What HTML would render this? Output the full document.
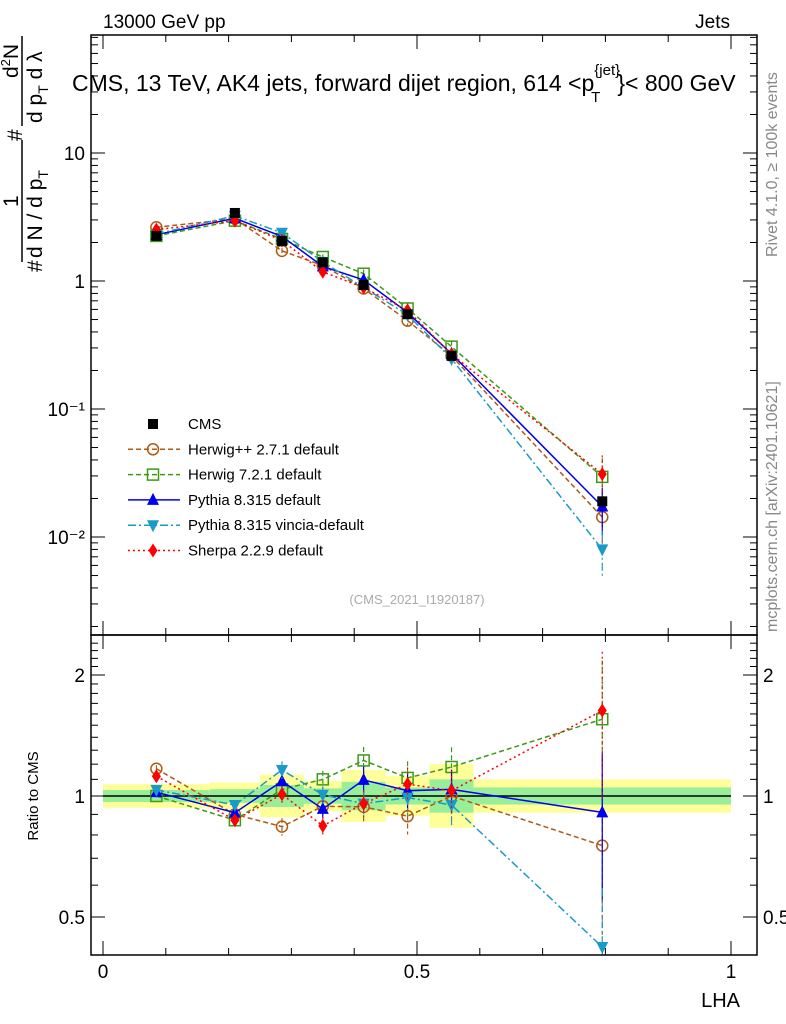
<!DOCTYPE html>
<html><head><meta charset="utf-8"><style>
body{margin:0;background:#fff;}
svg{display:block;font-family:"Liberation Sans",sans-serif;}
</style></head><body>
<svg id="chart" width="786" height="1024" viewBox="0 0 786 1024" xmlns="http://www.w3.org/2000/svg">
<defs><clipPath id="rclip"><rect x="91" y="635" width="666" height="320"/></clipPath><clipPath id="mclip"><rect x="91" y="35" width="666" height="600"/></clipPath></defs>
<text x="103" y="28" font-size="19">13000 GeV pp</text>
<text x="730" y="28" font-size="19" text-anchor="end">Jets</text>
<text x="72" y="91" font-size="23">CMS, 13 TeV, AK4 jets, forward dijet region, 614 &lt;p<tspan font-size="15" dy="-16">{jet}</tspan><tspan font-size="15" dx="-29" dy="27">T</tspan><tspan dy="-11" dx="17">}&lt; 800 GeV</tspan></text>
<g transform="translate(777,257) rotate(-90)"><text font-size="16" fill="#888">Rivet 4.1.0, ≥ 100k events</text></g>
<g transform="translate(777,632) rotate(-90)"><text font-size="16" fill="#888">mcplots.cern.ch [arXiv:2401.10621]</text></g>
<g font-size="21">
 <g transform="translate(42,272) rotate(-90)"><text>#</text></g>
 <g transform="translate(42,258) rotate(-90)"><text>d N / d p<tspan font-size="14" dy="6">T</tspan></text></g>
 <line x1="22" y1="140" x2="22" y2="262" stroke="#000" stroke-width="1.5"/>
 <g transform="translate(18,207) rotate(-90)"><text>1</text></g>
 <g transform="translate(22,141) rotate(-90)"><text>#</text></g>
 <line x1="22" y1="36" x2="22" y2="126" stroke="#000" stroke-width="1.5"/>
 <g transform="translate(18,78) rotate(-90)"><text>d<tspan font-size="13" dy="-8">2</tspan><tspan dy="8">N</tspan></text></g>
 <g transform="translate(42,123) rotate(-90)"><text>d p<tspan font-size="14" dy="6">T</tspan><tspan dy="-6"> d λ</tspan></text></g>
</g>
<g transform="translate(38,796) rotate(-90)"><text font-size="15" text-anchor="middle">Ratio to CMS</text></g>
<text x="740" y="1007" font-size="20" text-anchor="end">LHA</text>
<text x="417" y="604" font-size="13" fill="#aaa" text-anchor="middle">(CMS_2021_I1920187)</text>
<g id="main"></g><g id="ratio"></g><g id="axes"></g><g id="legend"></g>
</svg>
<script>
const edges=[0,0.17,0.25,0.32,0.38,0.45,0.52,0.59,1.0];
const lha=[0.085,0.21,0.285,0.35,0.415,0.485,0.555,0.795];
const cms=[2.25,3.4,2.05,1.4,0.93,0.55,0.26,0.019];
const herwigpp=[2.63,3.06,1.72,1.32,0.874,0.49,0.26,0.0143];
const herwig7=[2.25,2.96,2.13,1.54,1.14,0.61,0.307,0.0295];
const pythia=[2.30,3.09,2.23,1.30,1.02,0.567,0.27,0.0173];
const vincia=[2.33,3.23,2.38,1.41,0.89,0.545,0.247,0.0080];
const sherpa=[2.52,2.96,2.07,1.18,0.89,0.589,0.268,0.031];
const mcRelErr=[0.02,0.02,0.05,0.05,0.08,0.1,0.12,0.4];
const bandYellow=[1.07,1.08,1.13,1.09,1.16,1.12,1.2,1.1];
const bandGreen=[1.035,1.04,1.065,1.045,1.085,1.05,1.1,1.05];
const yTickLabels=["10","1","10⁻¹","10⁻²"];
const yTickVals=[10,1,0.1,0.01];
const ratioTickVals=[0.5,1,2];
const xTickVals=[0,0.5,1];

const NS="http://www.w3.org/2000/svg";
const L=91,R=757,MT=35,MB=635,RB=955;
const X=v=>103+628*v;
const Ym=v=>281-128*Math.log10(v);
const Yr=v=>796-121*Math.log2(v);
function mk(p,tag,a){const e=document.createElementNS(NS,tag);for(const k in a)e.setAttribute(k,a[k]);p.appendChild(e);return e;}
const main=document.getElementById('main'),ratio=document.getElementById('ratio'),axes=document.getElementById('axes'),leg=document.getElementById('legend');
main.setAttribute('clip-path','url(#mclip)');
ratio.setAttribute('clip-path','url(#rclip)');

edges.slice(0,-1).forEach((e0,i)=>{
 const y=mk(ratio,'rect',{x:X(e0),y:Yr(bandYellow[i]),width:X(edges[i+1])-X(e0),height:Yr(1/bandYellow[i])-Yr(bandYellow[i]),fill:'#ffff99'});
 
 
 const g=mk(ratio,'rect',{x:X(e0),y:Yr(bandGreen[i]),width:X(edges[i+1])-X(e0),height:Yr(1/bandGreen[i])-Yr(bandGreen[i]),fill:'#99ee99'});
 
 
});
const one=mk(ratio,'line',{x1:X(0),x2:X(1),y1:Yr(1),y2:Yr(1),stroke:'#000','stroke-width':1.5});



function marker(p,type,x,y,c){
 let e;
 if(type==='sq')e=mk(p,'rect',{x:x-5,y:y-5,width:10,height:10,fill:c});
 else if(type==='osq')e=mk(p,'rect',{x:x-5.5,y:y-5.5,width:11,height:11,fill:'none',stroke:c,'stroke-width':1.5});
 else if(type==='oc')e=mk(p,'circle',{cx:x,cy:y,r:5.5,fill:'none',stroke:c,'stroke-width':1.5});
 else if(type==='tri')e=mk(p,'polygon',{points:`${x},${y-7} ${x-6},${y+5} ${x+6},${y+5}`,fill:c});
 else if(type==='itri')e=mk(p,'polygon',{points:`${x},${y+7} ${x-6},${y-5} ${x+6},${y-5}`,fill:c});
 else e=mk(p,'polygon',{points:`${x},${y-7} ${x-4.5},${y} ${x},${y+7} ${x+4.5},${y}`,fill:c});
 return e;
}
const series=[
 {n:'Herwig++ 2.7.1 default',d:herwigpp,c:'#b05a14',m:'oc',dash:'5,3',id:'herwigpp'},
 {n:'Herwig 7.2.1 default',d:herwig7,c:'#3c9a14',m:'osq',dash:'5,3',id:'herwig7'},
 {n:'Pythia 8.315 default',d:pythia,c:'#0000ee',m:'tri',dash:'',id:'pythia'},
 {n:'Pythia 8.315 vincia-default',d:vincia,c:'#1a9ac8',m:'itri',dash:'8,3,2,3',id:'vincia'},
 {n:'Sherpa 2.2.9 default',d:sherpa,c:'#ff0000',m:'dia',dash:'2,3',id:'sherpa'}
];
series.forEach(s=>{
 [[main,v=>Ym(v),i=>s.d[i]],[ratio,v=>Yr(v),i=>s.d[i]/cms[i]]].forEach(([p,Y,val])=>{
  const pl=mk(p,'polyline',{points:lha.map((x,i)=>X(x)+','+Y(val(i))).join(' '),fill:'none',stroke:s.c,'stroke-width':1.5,'stroke-dasharray':s.dash});
  
  
  lha.forEach((x,i)=>{
   const v=val(i),er=mcRelErr[i];
   const eb=mk(p,'line',{x1:X(x),x2:X(x),y1:Y(v*(1+er)),y2:Y(v*(1-er)),stroke:s.c,'stroke-width':1.2,'stroke-dasharray':s.dash});
   
   
   const mkr=marker(p,s.m,X(x),Y(v),s.c);
   
   
  });
 });
});
cms.forEach((v,i)=>{
 const m=marker(main,'sq',X(lha[i]),Ym(v),'#000');
 
 
});

[[MT,MB],[MB,RB]].forEach(([t,b],k)=>{
 const f=mk(axes,'rect',{x:L,y:t,width:R-L,height:b-t,fill:'none',stroke:'#000','stroke-width':1.5});
 
 
 for(let v=0;v<=1.0001;v+=0.1){
  const big=Math.abs(v*2-Math.round(v*2))<1e-6, len=big?14:7;
  mk(axes,'line',{x1:X(v),x2:X(v),y1:b,y2:b-len,stroke:'#000'});
  mk(axes,'line',{x1:X(v),x2:X(v),y1:t,y2:t+len,stroke:'#000'});
 }
});
xTickVals.forEach(v=>{
 const t=mk(axes,'text',{x:X(v),y:978,'font-size':19,'text-anchor':'middle'});t.textContent=String(v);
 
 
});
for(let d=-3;d<=1;d++)for(let k=1;k<10;k++){
 const v=k*Math.pow(10,d),y=Ym(v);if(y<MT||y>MB)continue;
 const len=k===1?14:7;
 mk(axes,'line',{x1:L,x2:L+len,y1:y,y2:y,stroke:'#000'});
 mk(axes,'line',{x1:R,x2:R-len,y1:y,y2:y,stroke:'#000'});
}
yTickVals.forEach((v,i)=>{
 const t=mk(axes,'text',{x:85,y:Ym(v)+7,'font-size':19,'text-anchor':'end'});t.textContent=yTickLabels[i];
 
 
});
for(let v=0.4;v<=2.5;v+=0.1){
 const y=Yr(v);if(y<MB||y>RB)continue;
 const big=ratioTickVals.some(r=>Math.abs(r-v)<1e-6),len=big?14:7;
 mk(axes,'line',{x1:L,x2:L+len,y1:y,y2:y,stroke:'#000'});
 mk(axes,'line',{x1:R,x2:R-len,y1:y,y2:y,stroke:'#000'});
}
ratioTickVals.forEach(v=>{
 [[85,'end'],[763,'start']].forEach(([x,a])=>{
  const t=mk(axes,'text',{x:x,y:Yr(v)+7,'font-size':19,'text-anchor':a});t.textContent=String(v);
  
  
 });
});
const items=[{n:'CMS',m:'sq',c:'#000',dash:null}].concat(series);
items.forEach((s,i)=>{
 const y=424+25.3*i;
 if(s.dash!==null)mk(leg,'line',{x1:128,x2:180,y1:y,y2:y,stroke:s.c,'stroke-width':1.5,'stroke-dasharray':s.dash});
 const m=marker(leg,s.m,153,y,s.c);
 
 
 const t=mk(leg,'text',{x:188,y:y+5,'font-size':15});t.textContent=s.n;
 
 
});
</script>
</body></html>
